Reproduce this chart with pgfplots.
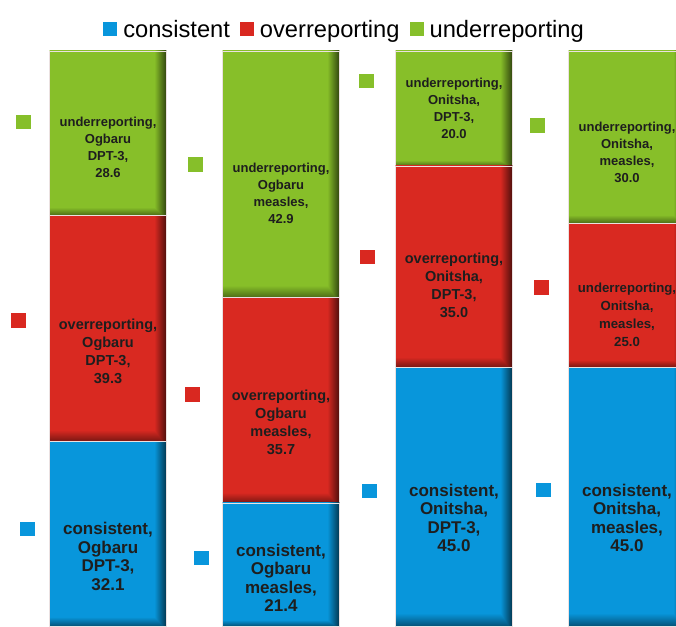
\documentclass[border=0pt]{standalone}
\usepackage{pgfplots}
\pgfplotsset{compat=1.18}
\usepackage{fontspec}
\setmainfont{Liberation Sans}
\definecolor{cblue}{RGB}{8,150,220}
\definecolor{cred}{RGB}{217,40,32}
\definecolor{cgreen}{RGB}{134,191,42}
\definecolor{ctext}{RGB}{30,30,30}
\definecolor{csep}{RGB}{235,225,225}

% bevel: dark right edge and dark bottom edge of every segment
\pgfdeclarefunctionalshading{bluebev}{\pgfpointorigin}{\pgfpoint{100bp}{100bp}}{}{
 dup 27.5 lt {27.5 exch sub 0.18 mul 1 exch sub}{pop 1} ifelse
 exch dup 69.8 gt {69.8 sub 0.125 mul 1 exch sub}{pop 1} ifelse
 2 copy gt {exch} if pop
 dup 0.03 mul exch dup 0.59 mul exch 0.86 mul
}
\pgfdeclarefunctionalshading{redbev}{\pgfpointorigin}{\pgfpoint{100bp}{100bp}}{}{
 dup 27.5 lt {27.5 exch sub 0.18 mul 1 exch sub}{pop 1} ifelse
 exch dup 69.8 gt {69.8 sub 0.125 mul 1 exch sub}{pop 1} ifelse
 2 copy gt {exch} if pop
 dup 0.85 mul exch dup 0.16 mul exch 0.13 mul
}
\pgfdeclarefunctionalshading{greenbev}{\pgfpointorigin}{\pgfpoint{100bp}{100bp}}{}{
 dup 27.5 lt {27.5 exch sub 0.18 mul 1 exch sub}{pop 1} ifelse
 exch dup 69.8 gt {69.8 sub 0.125 mul 1 exch sub}{pop 1} ifelse
 2 copy gt {exch} if pop
 dup 0.53 mul exch dup 0.75 mul exch 0.16 mul
}

\pgfplotsset{
  base/.style={at={(0pt,0pt)}, anchor=south west, width=676pt, height=575pt,
    scale only axis, xmin=-0.6243, xmax=3.2832, ymin=0, ymax=100, hide axis},
  bars/.style={base, ybar stacked, bar width=0.676, clip=true},
  seg/.style={draw=csep, line width=0.8pt, shading=#1, forget plot},
  lbl/.style={draw=none, mark=none, nodes near coords, point meta=explicit symbolic,
    every node near coord/.append style={anchor=center, align=center, text=ctext, font=#1}},
  sq/.style={only marks, color=#1, mark=square*, mark size=6.8pt, mark options={solid, draw=#1, fill=#1}},
}

\begin{document}
\begin{tikzpicture}
% bar 1: Ogbaru DPT-3
\begin{axis}[bars,
  legend image code/.code={\fill[#1] (0pt,-7pt) rectangle (14pt,7pt);},
  legend style={at={(0.5,1)}, anchor=south, yshift=8pt, xshift=7pt, draw=none, fill=none,
    legend columns=3, font=\fontsize{23.7}{28}\selectfont,
    nodes={inner xsep=3pt, inner ysep=2pt},
    /tikz/every odd column/.append style={column sep=3pt},
    /tikz/every even column/.append style={column sep=7pt}},
]
\addplot[seg=bluebev]  coordinates {(0,32.1)};
\addplot[seg=redbev]   coordinates {(0,39.3)};
\addplot[seg=greenbev] coordinates {(0,28.6)};
\addlegendimage{fill=cblue, draw=none}
\addlegendentry{consistent}
\addlegendimage{fill=cred, draw=none}
\addlegendentry{overreporting}
\addlegendimage{fill=cgreen, draw=none}
\addlegendentry{underreporting}
\end{axis}
% bar 2: Ogbaru measles
\begin{axis}[bars]
\addplot[seg=bluebev]  coordinates {(1,21.4)};
\addplot[seg=redbev]   coordinates {(1,35.7)};
\addplot[seg=greenbev] coordinates {(1,42.9)};
\end{axis}
% bar 3: Onitsha DPT-3
\begin{axis}[bars]
\addplot[seg=bluebev]  coordinates {(2,45.0)};
\addplot[seg=redbev]   coordinates {(2,35.0)};
\addplot[seg=greenbev] coordinates {(2,20.0)};
\end{axis}
% bar 4: Onitsha measles
\begin{axis}[bars]
\addplot[seg=bluebev]  coordinates {(3,45.0)};
\addplot[seg=redbev]   coordinates {(3,25.0)};
\addplot[seg=greenbev] coordinates {(3,30.0)};
\end{axis}

% small markers and data labels
\begin{axis}[base, clip=false]
\addplot[sq=cblue] coordinates {(-0.468,16.9) (0.538,11.9) (1.509,23.5) (2.514,23.7)};
\addplot[sq=cred] coordinates {(-0.520,53.2) (0.486,40.3) (1.497,64.2) (2.503,58.9)};
\addplot[sq=cgreen] coordinates {(-0.491,87.7) (0.503,80.3) (1.491,94.8) (2.480,87.1)};

\addplot[lbl={\fontsize{17}{18.5}\selectfont\bfseries}] coordinates {
  (0,12.1) [{consistent,\\Ogbaru\\DPT-3,\\32.1}]
  (1,8.4) [{consistent,\\Ogbaru\\measles,\\21.4}]
  (2,18.8) [{consistent,\\Onitsha,\\DPT-3,\\45.0}]
  (3,18.8) [{consistent,\\Onitsha,\\measles,\\45.0}]
};
\addplot[lbl={\fontsize{14.5}{18}\selectfont\bfseries}] coordinates {
  (0,47.8) [{overreporting,\\Ogbaru\\DPT-3,\\39.3}]
  (1,35.5) [{overreporting,\\Ogbaru\\measles,\\35.7}]
  (2,59.3) [{overreporting,\\Onitsha,\\DPT-3,\\35.0}]
};
\addplot[lbl={\fontsize{13.2}{18}\selectfont\bfseries}] coordinates {
  (3,54.2) [{underreporting,\\Onitsha,\\measles,\\25.0}]
};
\addplot[lbl={\fontsize{13}{17}\selectfont\bfseries}] coordinates {
  (0,83.3) [{underreporting,\\Ogbaru\\DPT-3,\\28.6}]
  (1,75.3) [{underreporting,\\Ogbaru\\measles,\\42.9}]
  (2,90.1) [{underreporting,\\Onitsha,\\DPT-3,\\20.0}]
  (3,82.4) [{underreporting,\\Onitsha,\\measles,\\30.0}]
};
\end{axis}
\pgfresetboundingbox
\path[use as bounding box] (0pt,0pt) rectangle (676pt,626pt);
\end{tikzpicture}
\end{document}
